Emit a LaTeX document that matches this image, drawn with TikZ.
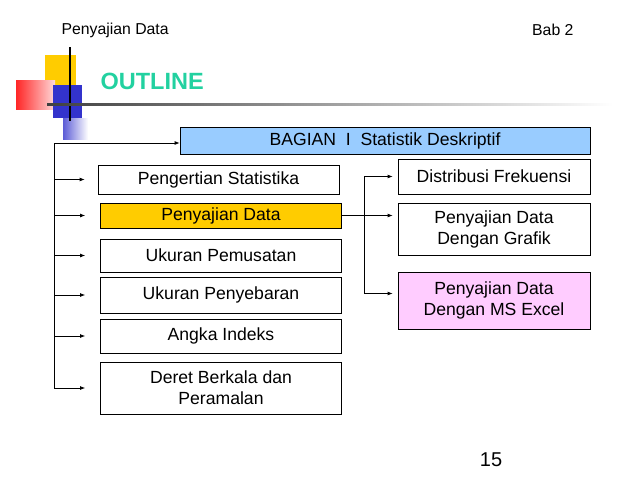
\documentclass[tikz,border=0pt]{standalone}
\usepackage{fontspec}
\setmainfont{Liberation Sans}
\usetikzlibrary{arrows.meta}
\definecolor{bagianblue}{HTML}{99CCFF}
\definecolor{dataorange}{HTML}{FFCC00}
\definecolor{excelpink}{HTML}{FFCCFF}
\definecolor{outlineteal}{HTML}{22D1A0}
\definecolor{decoblue}{HTML}{3333CC}
\tikzset{
  topicbox/.style={draw, line width=0.8pt, align=center, inner sep=0pt,
    font=\fontsize{17.6}{21}\selectfont},
  arr/.style={line width=0.8pt, -{Latex[length=5pt,width=4pt]}},
  lin/.style={line width=0.8pt}
}
\begin{document}
\begin{tikzpicture}[x=1pt,y=-1pt]
      \useasboundingbox (0,0) rectangle (638,479);
      \fill[dataorange] (45,55) rectangle (76,88);
      \shade[left color=red!85, right color=red!15] (16,80) rectangle (55,109);
      \fill[decoblue] (53,85) rectangle (82,118);
      \shade[left color=decoblue!80, right color=white] (63,118) rectangle (88,139);
      \draw[line width=1.6pt] (70,47) -- (70,121);
      \shade[left color=black!75, right color=white] (47,103.3) rectangle (613,105.2);
      \node[font=\fontsize{15.8}{18}\selectfont, anchor=west] (hdr) at (58,30) {Penyajian Data};
      \node[font=\fontsize{15.8}{18}\selectfont, anchor=east] (bab) at (577,30) {Bab 2};
      \node[font=\fontsize{23.5}{26}\bfseries\selectfont, text=outlineteal, anchor=west] (outline) at (97,81) {OUTLINE};
      \node[font=\fontsize{20}{24}\selectfont] (page) at (491,460) {15};
      \node[topicbox, fill=bagianblue, minimum width=410pt, minimum height=27pt] (bagian) at (385,140.5) {BAGIAN\ \ I\ \ Statistik Deskriptif};
      \node[topicbox, minimum width=241pt, minimum height=29pt] (pengertian) at (218.5,179.5) {Pengertian Statistika};
      \node[topicbox, fill=dataorange, minimum width=241pt, minimum height=25pt] (penyajian) at (221,215.5) {Penyajian Data};
      \node[topicbox, minimum width=241pt, minimum height=33pt] (pemusatan) at (221,255.5) {Ukuran Pemusatan};
      \node[topicbox, minimum width=241pt, minimum height=36pt] (penyebaran) at (221,295) {Ukuran Penyebaran};
      \node[topicbox, minimum width=241pt, minimum height=34pt] (indeks) at (221,336) {Angka Indeks};
      \node[topicbox, minimum width=241pt, minimum height=52pt] (deret) at (221,388) {Deret Berkala dan\\Peramalan};
      \node[topicbox, minimum width=192pt, minimum height=35pt] (distribusi) at (494,176.5) {Distribusi Frekuensi};
      \node[topicbox, minimum width=192pt, minimum height=52pt] (grafik) at (494,229) {Penyajian Data\\Dengan Grafik};
      \node[topicbox, fill=excelpink, minimum width=192pt, minimum height=57pt] (excel) at (494,300.5) {Penyajian Data\\Dengan MS Excel};
      \coordinate (ltrunk) at (54,143);
      \coordinate (rtrunk) at (364,0);
      \coordinate (exin) at ([yshift=7pt]excel.west);
      \begin{scope}[arr]
        \draw[lin, -] (ltrunk) -- (ltrunk |- deret.west);
        \draw (ltrunk) -- (ltrunk -| bagian.west);
        \draw (ltrunk |- pengertian.west) -- ([xshift=-13pt]pengertian.west);
        \draw (ltrunk |- penyajian.west) -- ([xshift=-15pt]penyajian.west);
        \draw (ltrunk |- pemusatan.west) -- ([xshift=-15pt]pemusatan.west);
        \draw (ltrunk |- penyebaran.west) -- ([xshift=-15pt]penyebaran.west);
        \draw (ltrunk |- indeks.west) -- ([xshift=-15pt]indeks.west);
        \draw (ltrunk |- deret.west) -- ([xshift=-15pt]deret.west);
        \draw[lin, -] (rtrunk |- distribusi.west) -- (rtrunk |- exin);
        \draw (rtrunk |- distribusi.west) -- ([xshift=-5pt]distribusi.west);
        \draw (penyajian.east) -- ([xshift=-5pt]penyajian.east -| grafik.west);
        \draw (rtrunk |- exin) -- ([xshift=-5pt]exin);
      \end{scope}
    \end{tikzpicture}
\end{document}
